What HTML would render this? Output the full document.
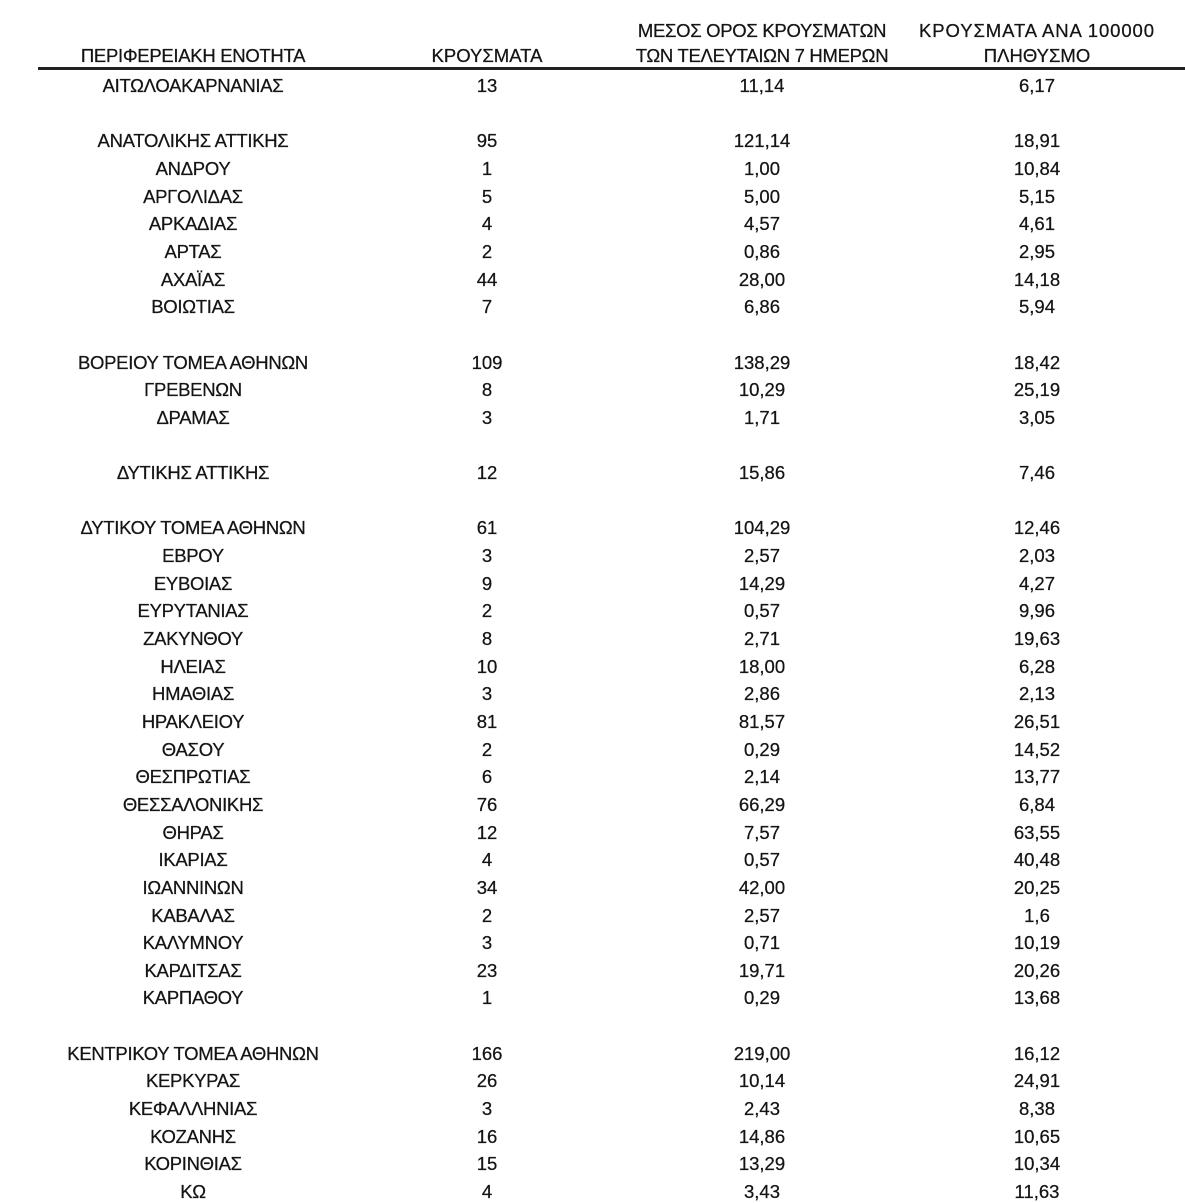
<!DOCTYPE html>
<html>
<head>
<meta charset="utf-8">
<style>
html,body{margin:0;padding:0;background:#fff;}
body{width:1185px;height:1200px;position:relative;overflow:hidden;font-family:"Liberation Sans","DejaVu Sans",sans-serif;font-size:18.5px;color:#141414;-webkit-text-stroke:0.25px #141414;}
.r{position:absolute;left:0;width:1185px;height:22px;line-height:22px;}
.r span{position:absolute;top:0;width:400px;text-align:center;white-space:nowrap;}
.a{left:-7px;letter-spacing:-0.3px}.b{left:287px}.c{left:562px}.d{left:837px}
.h{letter-spacing:-0.3px}
.line{position:absolute;left:38px;top:67px;width:1147px;height:3px;background:#222;}
</style>
</head>
<body>
<div class="r" style="top:20px"><span class="c h">ΜΕΣΟΣ ΟΡΟΣ ΚΡΟΥΣΜΑΤΩΝ</span><span class="d" style="letter-spacing:0.9px">ΚΡΟΥΣΜΑΤΑ ΑΝΑ 100000</span></div>
<div class="r" style="top:45px"><span class="a">ΠΕΡΙΦΕΡΕΙΑΚΗ ΕΝΟΤΗΤΑ</span><span class="b">ΚΡΟΥΣΜΑΤΑ</span><span class="c h">ΤΩΝ ΤΕΛΕΥΤΑΙΩΝ 7 ΗΜΕΡΩΝ</span><span class="d">ΠΛΗΘΥΣΜΟ</span></div>
<div class="line"></div>

<div class="r" style="top:75px"><span class="a">ΑΙΤΩΛΟΑΚΑΡΝΑΝΙΑΣ</span><span class="b">13</span><span class="c">11,14</span><span class="d">6,17</span></div>
<div class="r" style="top:130.3px"><span class="a">ΑΝΑΤΟΛΙΚΗΣ ΑΤΤΙΚΗΣ</span><span class="b">95</span><span class="c">121,14</span><span class="d">18,91</span></div>
<div class="r" style="top:157.95px"><span class="a">ΑΝΔΡΟΥ</span><span class="b">1</span><span class="c">1,00</span><span class="d">10,84</span></div>
<div class="r" style="top:185.6px"><span class="a">ΑΡΓΟΛΙΔΑΣ</span><span class="b">5</span><span class="c">5,00</span><span class="d">5,15</span></div>
<div class="r" style="top:213.25px"><span class="a">ΑΡΚΑΔΙΑΣ</span><span class="b">4</span><span class="c">4,57</span><span class="d">4,61</span></div>
<div class="r" style="top:240.9px"><span class="a">ΑΡΤΑΣ</span><span class="b">2</span><span class="c">0,86</span><span class="d">2,95</span></div>
<div class="r" style="top:268.55px"><span class="a">ΑΧΑΪΑΣ</span><span class="b">44</span><span class="c">28,00</span><span class="d">14,18</span></div>
<div class="r" style="top:296.2px"><span class="a">ΒΟΙΩΤΙΑΣ</span><span class="b">7</span><span class="c">6,86</span><span class="d">5,94</span></div>
<div class="r" style="top:351.5px"><span class="a">ΒΟΡΕΙΟΥ ΤΟΜΕΑ ΑΘΗΝΩΝ</span><span class="b">109</span><span class="c">138,29</span><span class="d">18,42</span></div>
<div class="r" style="top:379.15px"><span class="a">ΓΡΕΒΕΝΩΝ</span><span class="b">8</span><span class="c">10,29</span><span class="d">25,19</span></div>
<div class="r" style="top:406.8px"><span class="a">ΔΡΑΜΑΣ</span><span class="b">3</span><span class="c">1,71</span><span class="d">3,05</span></div>
<div class="r" style="top:462.1px"><span class="a">ΔΥΤΙΚΗΣ ΑΤΤΙΚΗΣ</span><span class="b">12</span><span class="c">15,86</span><span class="d">7,46</span></div>
<div class="r" style="top:517.4px"><span class="a">ΔΥΤΙΚΟΥ ΤΟΜΕΑ ΑΘΗΝΩΝ</span><span class="b">61</span><span class="c">104,29</span><span class="d">12,46</span></div>
<div class="r" style="top:545.05px"><span class="a">ΕΒΡΟΥ</span><span class="b">3</span><span class="c">2,57</span><span class="d">2,03</span></div>
<div class="r" style="top:572.7px"><span class="a">ΕΥΒΟΙΑΣ</span><span class="b">9</span><span class="c">14,29</span><span class="d">4,27</span></div>
<div class="r" style="top:600.35px"><span class="a">ΕΥΡΥΤΑΝΙΑΣ</span><span class="b">2</span><span class="c">0,57</span><span class="d">9,96</span></div>
<div class="r" style="top:628px"><span class="a">ΖΑΚΥΝΘΟΥ</span><span class="b">8</span><span class="c">2,71</span><span class="d">19,63</span></div>
<div class="r" style="top:655.65px"><span class="a">ΗΛΕΙΑΣ</span><span class="b">10</span><span class="c">18,00</span><span class="d">6,28</span></div>
<div class="r" style="top:683.3px"><span class="a">ΗΜΑΘΙΑΣ</span><span class="b">3</span><span class="c">2,86</span><span class="d">2,13</span></div>
<div class="r" style="top:710.95px"><span class="a">ΗΡΑΚΛΕΙΟΥ</span><span class="b">81</span><span class="c">81,57</span><span class="d">26,51</span></div>
<div class="r" style="top:738.6px"><span class="a">ΘΑΣΟΥ</span><span class="b">2</span><span class="c">0,29</span><span class="d">14,52</span></div>
<div class="r" style="top:766.25px"><span class="a">ΘΕΣΠΡΩΤΙΑΣ</span><span class="b">6</span><span class="c">2,14</span><span class="d">13,77</span></div>
<div class="r" style="top:793.9px"><span class="a">ΘΕΣΣΑΛΟΝΙΚΗΣ</span><span class="b">76</span><span class="c">66,29</span><span class="d">6,84</span></div>
<div class="r" style="top:821.55px"><span class="a">ΘΗΡΑΣ</span><span class="b">12</span><span class="c">7,57</span><span class="d">63,55</span></div>
<div class="r" style="top:849.2px"><span class="a">ΙΚΑΡΙΑΣ</span><span class="b">4</span><span class="c">0,57</span><span class="d">40,48</span></div>
<div class="r" style="top:876.85px"><span class="a">ΙΩΑΝΝΙΝΩΝ</span><span class="b">34</span><span class="c">42,00</span><span class="d">20,25</span></div>
<div class="r" style="top:904.5px"><span class="a">ΚΑΒΑΛΑΣ</span><span class="b">2</span><span class="c">2,57</span><span class="d">1,6</span></div>
<div class="r" style="top:932.15px"><span class="a">ΚΑΛΥΜΝΟΥ</span><span class="b">3</span><span class="c">0,71</span><span class="d">10,19</span></div>
<div class="r" style="top:959.8px"><span class="a">ΚΑΡΔΙΤΣΑΣ</span><span class="b">23</span><span class="c">19,71</span><span class="d">20,26</span></div>
<div class="r" style="top:987.45px"><span class="a">ΚΑΡΠΑΘΟΥ</span><span class="b">1</span><span class="c">0,29</span><span class="d">13,68</span></div>
<div class="r" style="top:1042.75px"><span class="a">ΚΕΝΤΡΙΚΟΥ ΤΟΜΕΑ ΑΘΗΝΩΝ</span><span class="b">166</span><span class="c">219,00</span><span class="d">16,12</span></div>
<div class="r" style="top:1070.4px"><span class="a">ΚΕΡΚΥΡΑΣ</span><span class="b">26</span><span class="c">10,14</span><span class="d">24,91</span></div>
<div class="r" style="top:1098.05px"><span class="a">ΚΕΦΑΛΛΗΝΙΑΣ</span><span class="b">3</span><span class="c">2,43</span><span class="d">8,38</span></div>
<div class="r" style="top:1125.7px"><span class="a">ΚΟΖΑΝΗΣ</span><span class="b">16</span><span class="c">14,86</span><span class="d">10,65</span></div>
<div class="r" style="top:1153.35px"><span class="a">ΚΟΡΙΝΘΙΑΣ</span><span class="b">15</span><span class="c">13,29</span><span class="d">10,34</span></div>
<div class="r" style="top:1181px"><span class="a">ΚΩ</span><span class="b">4</span><span class="c">3,43</span><span class="d">11,63</span></div>
</body>
</html>
